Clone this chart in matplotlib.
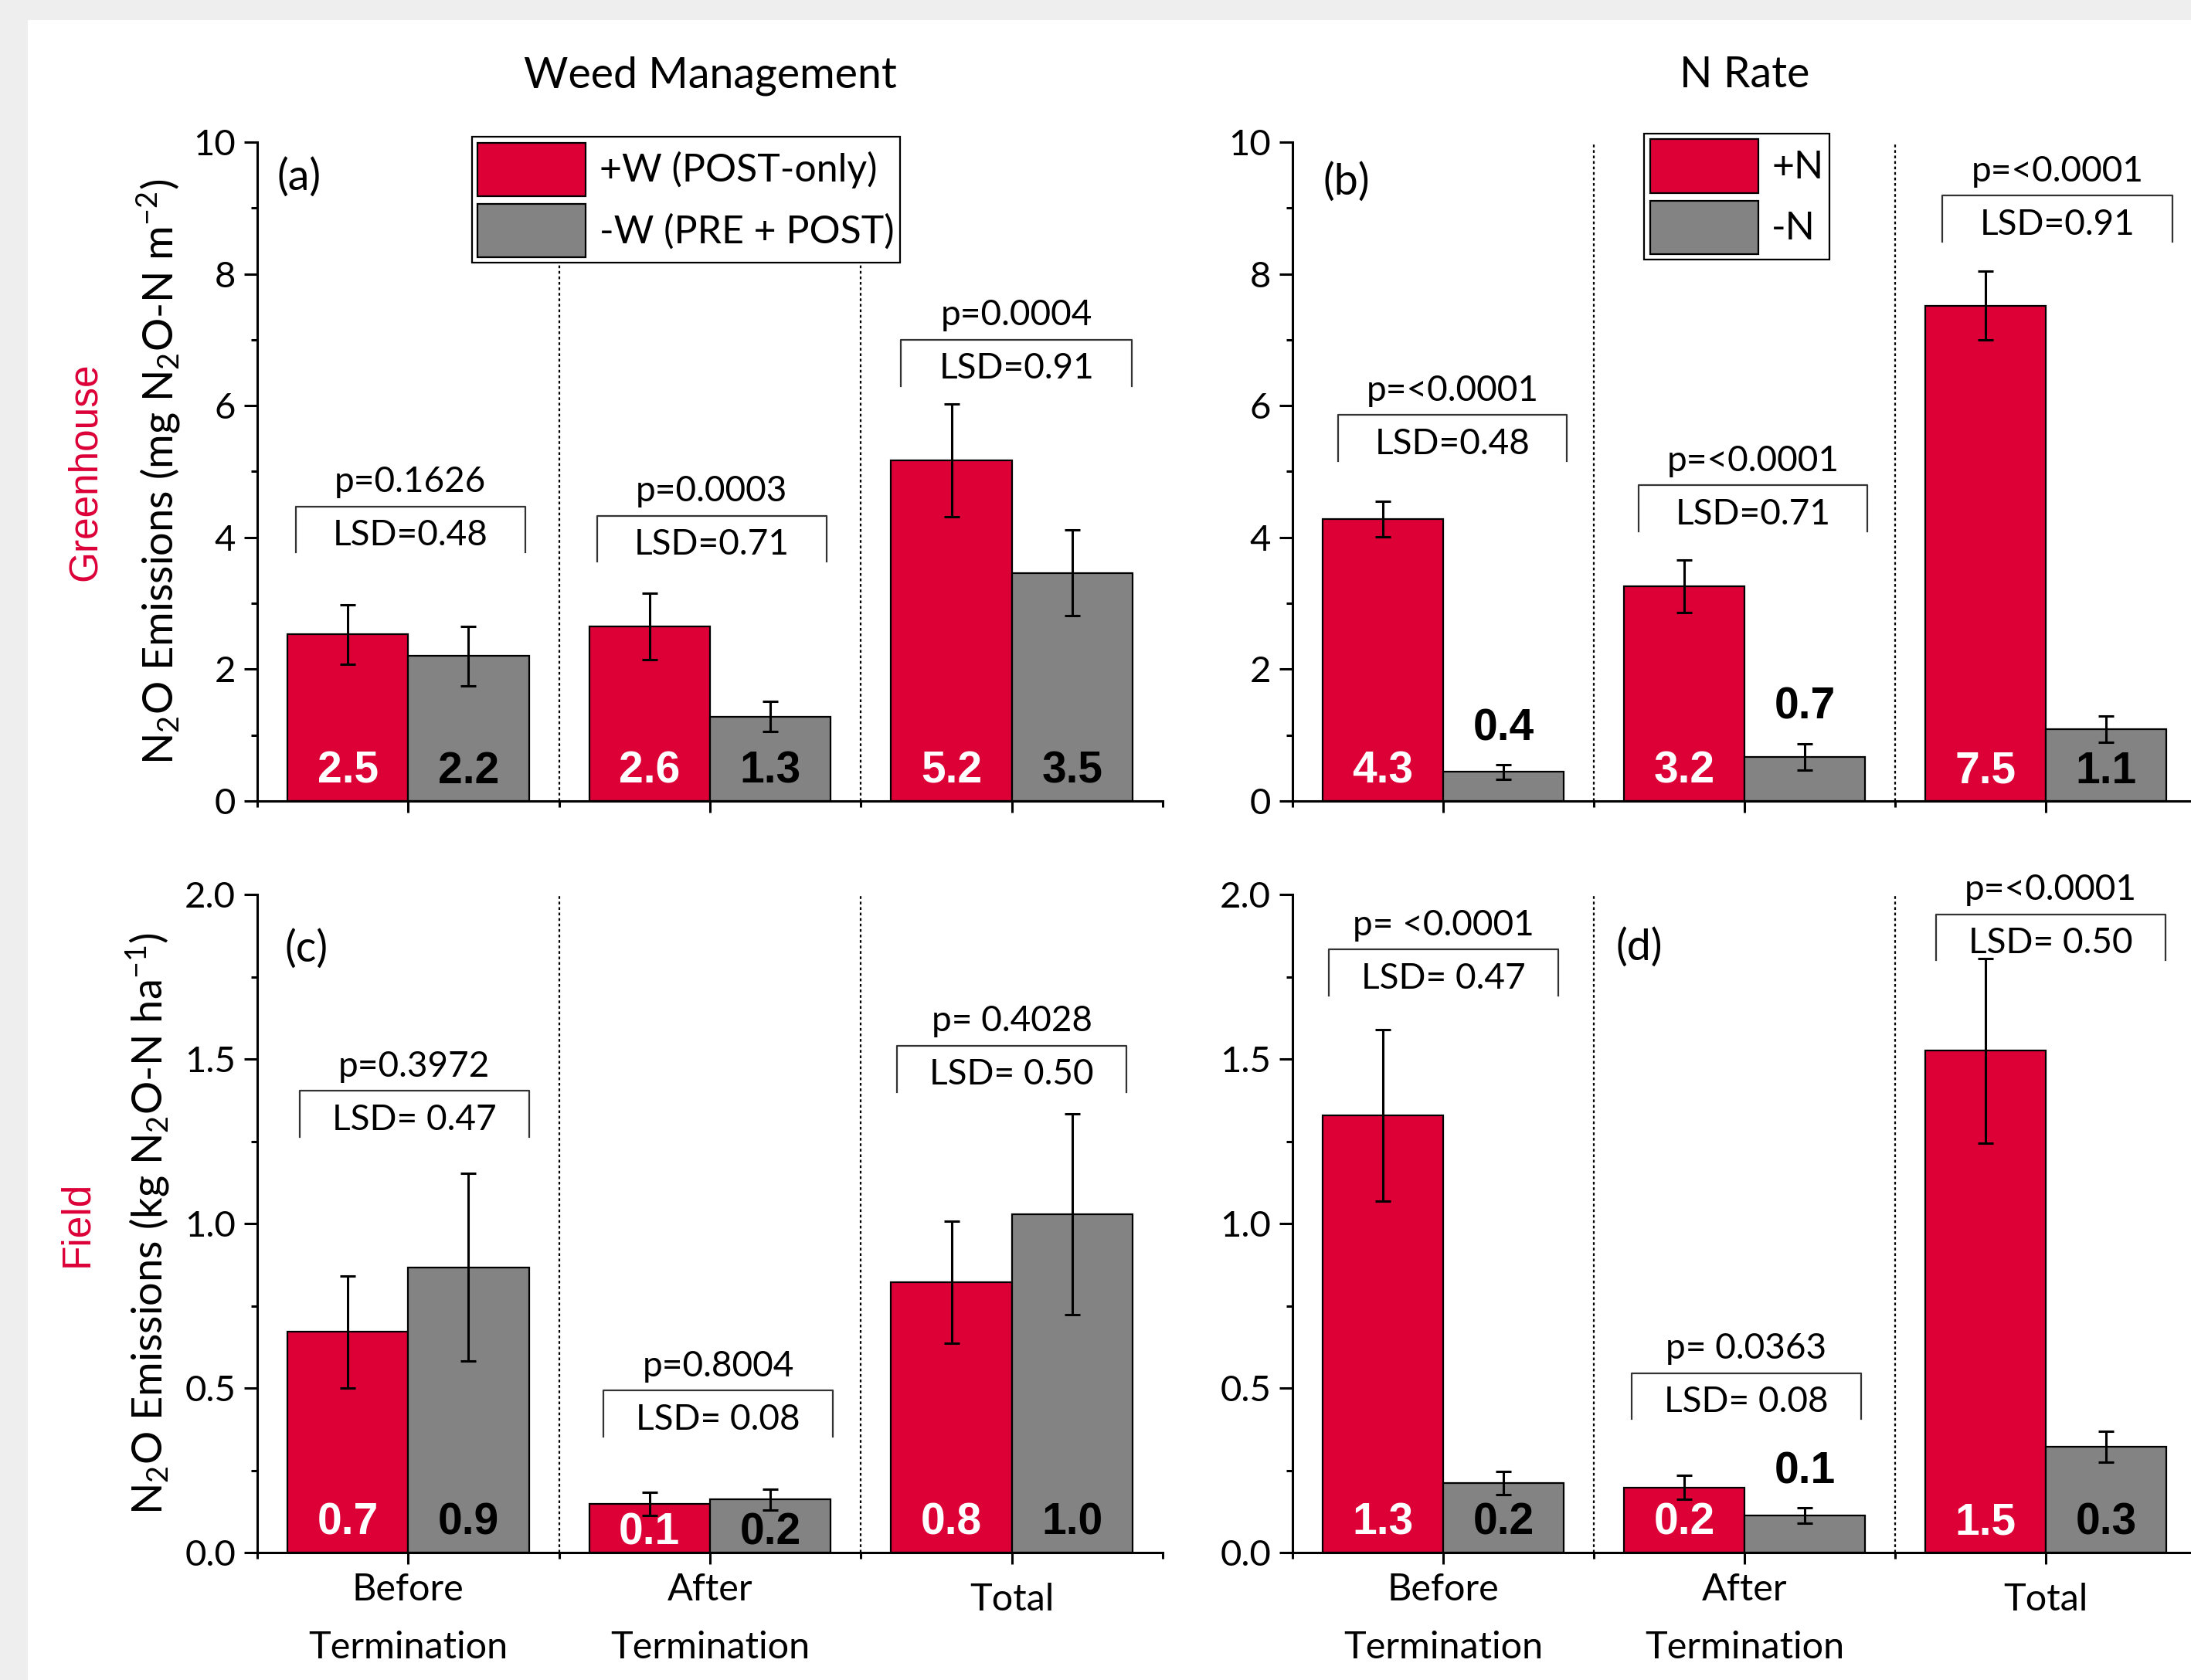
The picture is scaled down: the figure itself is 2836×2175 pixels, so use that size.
import matplotlib
matplotlib.use("Agg")
import numpy as np
import matplotlib.pyplot as plt
from matplotlib.patches import Patch, Rectangle
from matplotlib.ticker import MultipleLocator, FormatStrFormatter
from matplotlib.transforms import ScaledTranslation

plt.rcParams['font.family'] = ['Lato', 'DejaVu Sans']
plt.rcParams['mathtext.fontset'] = 'custom'
plt.rcParams['mathtext.rm'] = 'Lato'
plt.rcParams['mathtext.it'] = 'Lato:italic'
plt.rcParams['mathtext.bf'] = 'Lato:bold'

RED = '#DC0037'
GRAY = '#838383'

# categories
periods = ["Before\nTermination", "After\nTermination", "Total"]

# greenhouse, weed management (mg N2O-N m-2)
gh_w_plus = [2.53, 2.65, 5.17]
gh_w_plus_err = [0.45, 0.50, 0.85]
gh_w_minus = [2.20, 1.28, 3.46]
gh_w_minus_err = [0.45, 0.23, 0.65]
gh_w_plus_lbl = ["2.5", "2.6", "5.2"]
gh_w_minus_lbl = ["2.2", "1.3", "3.5"]

# greenhouse, N rate
gh_n_plus = [4.28, 3.26, 7.52]
gh_n_plus_err = [0.27, 0.40, 0.52]
gh_n_minus = [0.44, 0.67, 1.09]
gh_n_minus_err = [0.11, 0.20, 0.20]
gh_n_plus_lbl = ["4.3", "3.2", "7.5"]
gh_n_minus_lbl = ["0.4", "0.7", "1.1"]

# field, weed management (kg N2O-N ha-1)
fd_w_plus = [0.671, 0.148, 0.822]
fd_w_plus_err = [0.17, 0.035, 0.185]
fd_w_minus = [0.867, 0.161, 1.028]
fd_w_minus_err = [0.285, 0.031, 0.305]
fd_w_plus_lbl = ["0.7", "0.1", "0.8"]
fd_w_minus_lbl = ["0.9", "0.2", "1.0"]

# field, N rate
fd_n_plus = [1.329, 0.198, 1.525]
fd_n_plus_err = [0.26, 0.037, 0.28]
fd_n_minus = [0.211, 0.113, 0.322]
fd_n_minus_err = [0.036, 0.023, 0.047]
fd_n_plus_lbl = ["1.3", "0.2", "1.5"]
fd_n_minus_lbl = ["0.2", "0.1", "0.3"]

# statistics
gh_w_p = ["p=0.1626", "p=0.0003", "p=0.0004"]
gh_w_lsd = ["LSD=0.48", "LSD=0.71", "LSD=0.91"]
gh_n_p = ["p=<0.0001", "p=<0.0001", "p=<0.0001"]
gh_n_lsd = ["LSD=0.48", "LSD=0.71", "LSD=0.91"]
fd_w_p = ["p=0.3972", "p=0.8004", "p= 0.4028"]
fd_w_lsd = ["LSD= 0.47", "LSD= 0.08", "LSD= 0.50"]
fd_n_p = ["p= <0.0001", "p= 0.0363", "p=<0.0001"]
fd_n_lsd = ["LSD= 0.47", "LSD= 0.08", "LSD= 0.50"]

# bracket placement (left, right, top) in data units
br_a = [(0.128, 0.887, 4.47), (1.125, 1.887, 4.33), (2.133, 2.898, 7.00)]
br_b = [(0.151, 0.910, 5.86), (1.149, 1.908, 4.79), (2.156, 2.921, 9.19)]
br_c = [(0.141, 0.900, 1.403), (1.148, 1.906, 0.492), (2.120, 2.880, 1.54)]
br_d = [(0.120, 0.882, 1.833), (1.126, 1.887, 0.545), (2.136, 2.897, 1.94)]

W, H = 2836, 2175
fig = plt.figure(figsize=(W / 200, H / 200), dpi=200)
fig.patch.set_facecolor('#eeeeee')
fig.add_artist(Rectangle((36 / W, 0), 1, (H - 26) / H, transform=fig.transFigure,
                         facecolor='white', edgecolor='none', zorder=-10))


def make_ax(left, top, width, height):
    ax = fig.add_axes([left / W, (H - top - height) / H, width / W, height / H])
    ax.set_facecolor('none')
    return ax


ax_a = make_ax(333, 184, 1172, 853)
ax_b = make_ax(1673, 184, 1170, 853)
ax_c = make_ax(333, 1158, 1172, 852)
ax_d = make_ax(1673, 1158, 1170, 852)


def draw_panel(ax, plus, plus_err, minus, minus_err, plus_lbl, minus_lbl,
               ymax, ystep, fmt, brackets, ptxt, lsdtxt, above=(), low=(), xlabels=False):
    x = np.arange(3) + 0.5
    ax.bar(x - 0.2, plus, width=0.4, color=RED, edgecolor='k', linewidth=0.8, zorder=2)
    ax.bar(x + 0.2, minus, width=0.4, color=GRAY, edgecolor='k', linewidth=0.8, zorder=2)
    ax.errorbar(x - 0.2, plus, yerr=plus_err, fmt='none', ecolor='k',
                elinewidth=1.1, capsize=3.5, capthick=1.1, zorder=3)
    ax.errorbar(x + 0.2, minus, yerr=minus_err, fmt='none', ecolor='k',
                elinewidth=1.1, capsize=3.5, capthick=1.1, zorder=3)

    for i in range(3):
        ylab = 0.045 * ymax - (0.015 * ymax if i in low else 0)
        ax.text(x[i] - 0.2, ylab, plus_lbl[i], ha='center', va='center', color='white',
                fontsize=20.5, fontweight='bold', family='Liberation Sans', zorder=4)
        if i in above:
            ya = minus[i] + minus_err[i] + 0.055 * ymax
        else:
            ya = ylab
        ax.text(x[i] + 0.2, ya, minus_lbl[i], ha='center', va='center', color='black',
                fontsize=20.5, fontweight='bold', family='Liberation Sans', zorder=4)

    for (l, r, t), ps, ls in zip(brackets, ptxt, lsdtxt):
        b = t - 0.07 * ymax
        ax.plot([l, l, r, r], [b, t, t, b], color='#333333', lw=0.8, zorder=3, clip_on=False)
        ax.text((l + r) / 2, t - 0.044 * ymax, ls, ha='center', va='center', fontsize=16.5)
        ax.text((l + r) / 2, t + 0.037 * ymax, ps, ha='center', va='center', fontsize=16.5,
                clip_on=False)

    for sep in (1, 2):
        ax.axvline(sep, color='k', lw=0.8, ls=(0, (1.6, 1.6)), zorder=1)

    ax.set_xlim(0, 3)
    ax.set_ylim(0, ymax)
    ax.spines['top'].set_visible(False)
    ax.spines['right'].set_visible(False)
    ax.spines['left'].set_linewidth(1.1)
    ax.spines['bottom'].set_linewidth(1.1)
    ax.yaxis.set_major_locator(MultipleLocator(ystep))
    ax.yaxis.set_minor_locator(MultipleLocator(ystep / 2))
    ax.yaxis.set_major_formatter(FormatStrFormatter(fmt))
    ax.set_xticks(x)
    ax.set_xticks([0, 1, 2, 3], minor=True)
    ax.set_xticklabels(periods if xlabels else [], linespacing=1.85)
    ax.tick_params(axis='both', which='major', direction='out', width=1.1)
    ax.tick_params(axis='y', which='major', length=6, pad=4, labelsize=17)
    ax.tick_params(axis='y', which='minor', length=3, width=1.1)
    ax.tick_params(axis='x', which='major', length=5.5, pad=4, labelsize=17.5)
    ax.tick_params(axis='x', which='minor', length=3, width=1.1)
    if xlabels:
        total = ax.get_xticklabels()[2]
        total.set_transform(total.get_transform() +
                            ScaledTranslation(0, -13 / 200, fig.dpi_scale_trans))


draw_panel(ax_a, gh_w_plus, gh_w_plus_err, gh_w_minus, gh_w_minus_err, gh_w_plus_lbl,
           gh_w_minus_lbl, 10, 2, '%d', br_a, gh_w_p, gh_w_lsd)
draw_panel(ax_b, gh_n_plus, gh_n_plus_err, gh_n_minus, gh_n_minus_err, gh_n_plus_lbl,
           gh_n_minus_lbl, 10, 2, '%d', br_b, gh_n_p, gh_n_lsd, above=(0, 1))
draw_panel(ax_c, fd_w_plus, fd_w_plus_err, fd_w_minus, fd_w_minus_err, fd_w_plus_lbl,
           fd_w_minus_lbl, 2.0, 0.5, '%.1f', br_c, fd_w_p, fd_w_lsd, low=(1,), xlabels=True)
draw_panel(ax_d, fd_n_plus, fd_n_plus_err, fd_n_minus, fd_n_minus_err, fd_n_plus_lbl,
           fd_n_minus_lbl, 2.0, 0.5, '%.1f', br_d, fd_n_p, fd_n_lsd, above=(1,), xlabels=True)

# column titles
ax_a.text(0.5, 1.101, "Weed Management", transform=ax_a.transAxes, ha='center', va='center',
          fontsize=20)
ax_b.text(0.5, 1.101, "N Rate", transform=ax_b.transAxes, ha='center', va='center',
          fontsize=20)

# panel letters
ax_a.text(0.022, 0.946, "(a)", transform=ax_a.transAxes, ha='left', va='center', fontsize=20)
ax_b.text(0.034, 0.939, "(b)", transform=ax_b.transAxes, ha='left', va='center', fontsize=20)
ax_c.text(0.030, 0.917, "(c)", transform=ax_c.transAxes, ha='left', va='center', fontsize=20)
ax_d.text(0.358, 0.919, "(d)", transform=ax_d.transAxes, ha='left', va='center', fontsize=20)

# y labels
ax_a.text(-0.108, 0.5, r"N$_2$O Emissions (mg N$_2$O-N m$^{-2}$)", transform=ax_a.transAxes,
          rotation=90, ha='center', va='center', fontsize=19.5)
ax_c.text(-0.120, 0.5, r"N$_2$O Emissions (kg N$_2$O-N ha$^{-1}$)", transform=ax_c.transAxes,
          rotation=90, ha='center', va='center', fontsize=19.5)
ax_a.text(-0.190, 0.5, "Greenhouse", transform=ax_a.transAxes, rotation=90, ha='center',
          va='center', fontsize=18.5, color=RED, family='Liberation Sans')
ax_c.text(-0.199, 0.5, "Field", transform=ax_c.transAxes, rotation=90, ha='center',
          va='center', fontsize=18.5, color=RED, family='Liberation Sans')

# legends
leg_kw = dict(loc='upper left', fontsize=18, handlelength=2.8, handleheight=1.75,
              handletextpad=0.35, labelspacing=0.2, borderpad=0.15, borderaxespad=0,
              fancybox=False, framealpha=1, edgecolor='k')
leg_a = ax_a.legend(handles=[Patch(facecolor=RED, edgecolor='k', lw=0.8, label="+W (POST-only)"),
                             Patch(facecolor=GRAY, edgecolor='k', lw=0.8, label="-W (PRE + POST)")],
                    bbox_to_anchor=(0.237, 1.008), **leg_kw)
leg_b = ax_b.legend(handles=[Patch(facecolor=RED, edgecolor='k', lw=0.8, label="+N"),
                             Patch(facecolor=GRAY, edgecolor='k', lw=0.8, label="-N")],
                    bbox_to_anchor=(0.389, 1.013), **leg_kw)
for leg in (leg_a, leg_b):
    leg.get_frame().set_linewidth(0.8)
    leg.set_zorder(5)

fig.savefig("out.png", dpi=200)
